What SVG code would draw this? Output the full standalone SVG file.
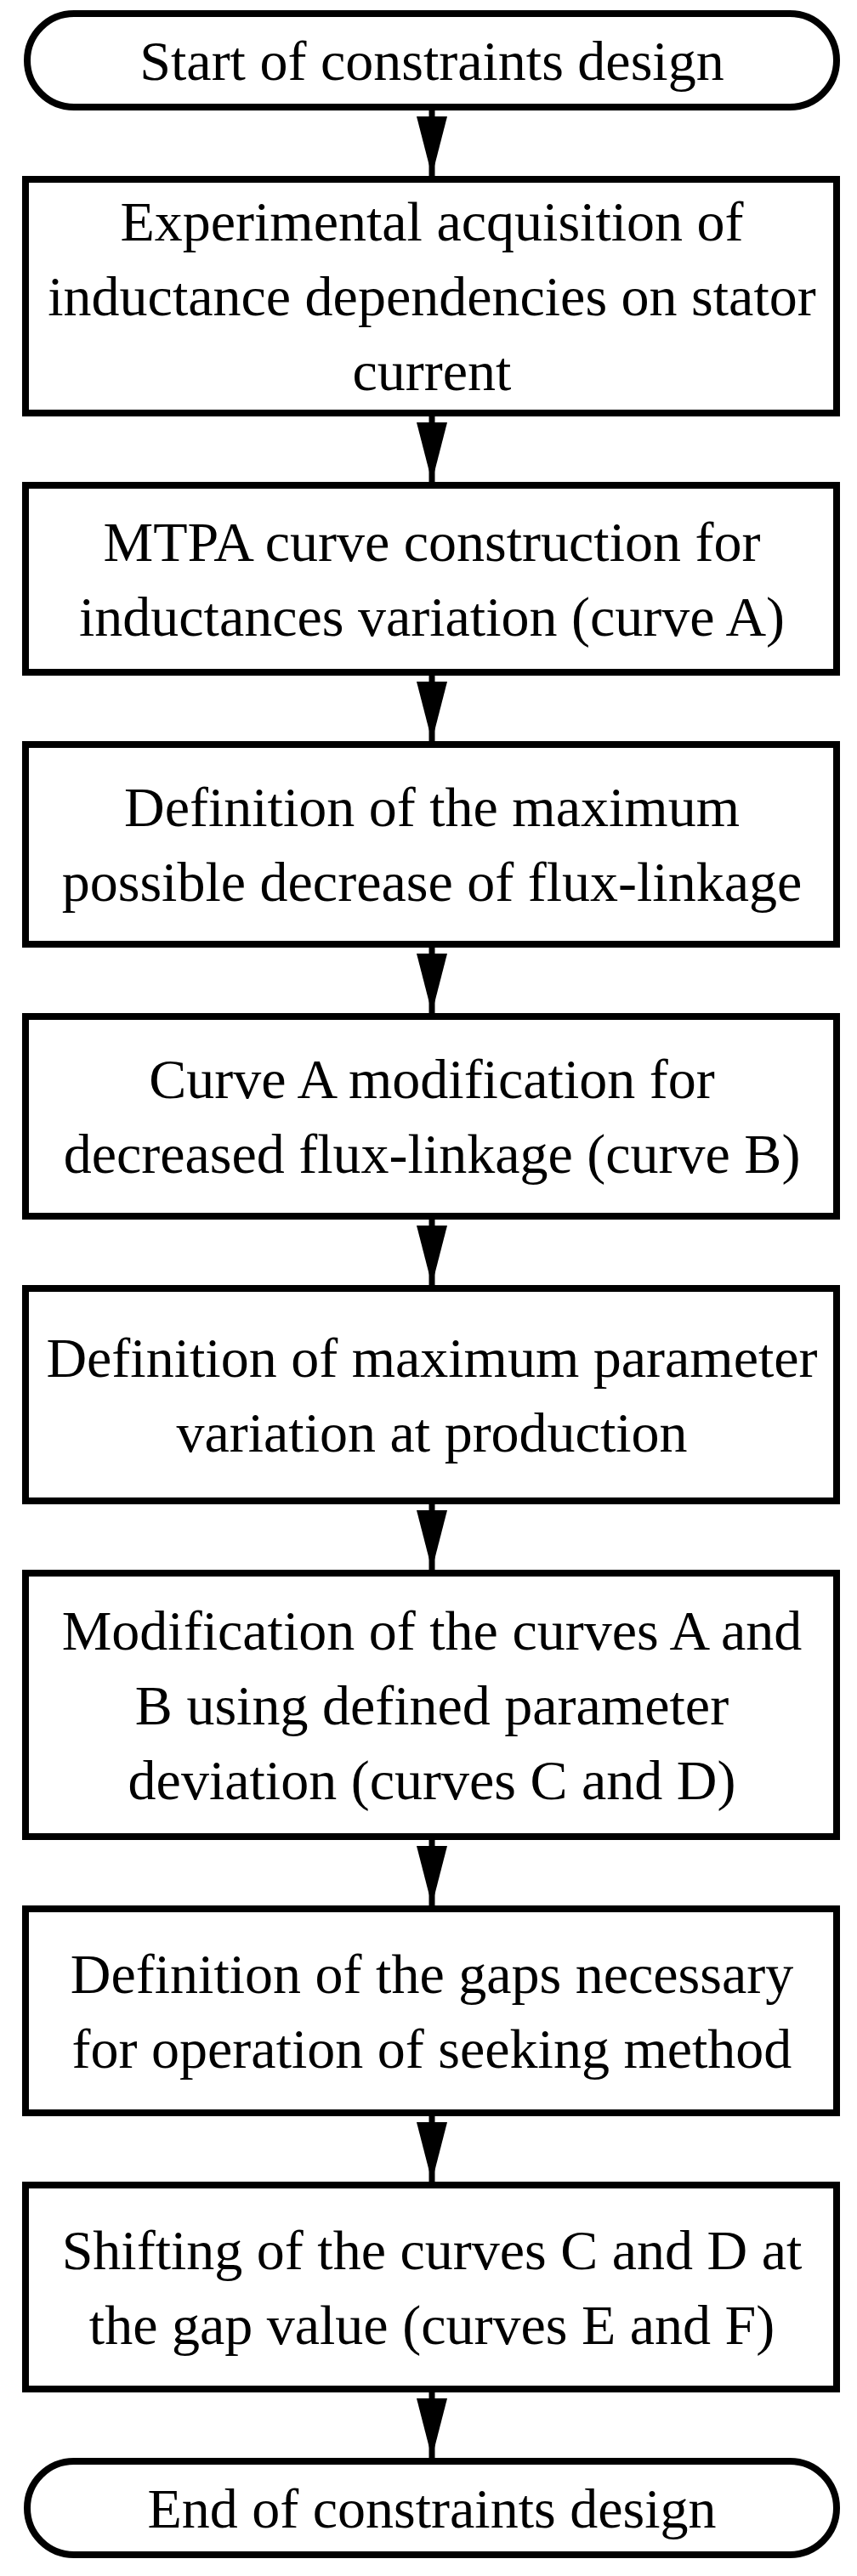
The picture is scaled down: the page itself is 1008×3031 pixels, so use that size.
<svg xmlns="http://www.w3.org/2000/svg" width="1008" height="3031" viewBox="0 0 1008 3031">
<style>
.b{fill:#fff;stroke:#000;stroke-width:8}
.t{font-family:"Liberation Serif","Times New Roman",serif;font-size:66px;text-anchor:middle;fill:#000}
.c{stroke:#000;stroke-width:7;fill:none}
</style>
<defs><marker id="a" markerUnits="userSpaceOnUse" markerWidth="72" markerHeight="40" refX="70" refY="20" orient="auto" viewBox="0 0 72 40"><path d="M0 2 L70 20 L0 38 Z" fill="#000"/></marker></defs>
<rect width="1008" height="3031" fill="#fff"/>
<g id="connectors">
<line class="c" x1="508" y1="126" x2="508" y2="207" marker-end="url(#a)"/>
<line class="c" x1="508" y1="486" x2="508" y2="567" marker-end="url(#a)"/>
<line class="c" x1="508" y1="791" x2="508" y2="872" marker-end="url(#a)"/>
<line class="c" x1="508" y1="1111" x2="508" y2="1192" marker-end="url(#a)"/>
<line class="c" x1="508" y1="1431" x2="508" y2="1512" marker-end="url(#a)"/>
<line class="c" x1="508" y1="1766" x2="508" y2="1847" marker-end="url(#a)"/>
<line class="c" x1="508" y1="2161" x2="508" y2="2242" marker-end="url(#a)"/>
<line class="c" x1="508" y1="2486" x2="508" y2="2567" marker-end="url(#a)"/>
<line class="c" x1="508" y1="2811" x2="508" y2="2892" marker-end="url(#a)"/>
</g>
<g id="start"><rect class="b" x="32" y="16" width="952" height="110" rx="55"/><text class="t" x="508" y="94">Start of constraints design</text></g>
<g id="n1"><rect class="b" x="30" y="211" width="954" height="275"/><text class="t" x="508" y="283">Experimental acquisition of</text><text class="t" x="508" y="371">inductance dependencies on stator</text><text class="t" x="508" y="459">current</text></g>
<g id="n2"><rect class="b" x="30" y="571" width="954" height="220"/><text class="t" x="508" y="660">MTPA curve construction for</text><text class="t" x="508" y="748">inductances variation (curve A)</text></g>
<g id="n3"><rect class="b" x="30" y="876" width="954" height="235"/><text class="t" x="508" y="972">Definition of the maximum</text><text class="t" x="508" y="1060">possible decrease of flux-linkage</text></g>
<g id="n4"><rect class="b" x="30" y="1196" width="954" height="235"/><text class="t" x="508" y="1292">Curve A modification for</text><text class="t" x="508" y="1380">decreased flux-linkage (curve B)</text></g>
<g id="n5"><rect class="b" x="30" y="1516" width="954" height="250"/><text class="t" x="508" y="1620">Definition of maximum parameter</text><text class="t" x="508" y="1708">variation at production</text></g>
<g id="n6"><rect class="b" x="30" y="1851" width="954" height="310"/><text class="t" x="508" y="1941">Modification of the curves A and</text><text class="t" x="508" y="2029">B using defined parameter</text><text class="t" x="508" y="2117">deviation (curves C and D)</text></g>
<g id="n7"><rect class="b" x="30" y="2246" width="954" height="240"/><text class="t" x="508" y="2345">Definition of the gaps necessary</text><text class="t" x="508" y="2433">for operation of seeking method</text></g>
<g id="n8"><rect class="b" x="30" y="2571" width="954" height="240"/><text class="t" x="508" y="2670">Shifting of the curves C and D at</text><text class="t" x="508" y="2758">the gap value (curves E and F)</text></g>
<g id="end"><rect class="b" x="32" y="2896" width="952" height="110" rx="55"/><text class="t" x="508" y="2974">End of constraints design</text></g>
</svg>
